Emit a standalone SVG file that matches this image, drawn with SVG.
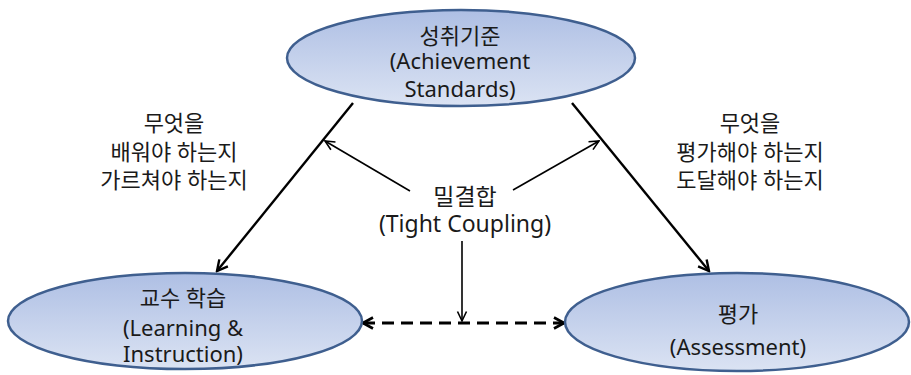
<svg xmlns="http://www.w3.org/2000/svg" width="911" height="375" viewBox="0 0 911 375">
  <defs>
    <linearGradient id="fillGrad" x1="0" y1="0" x2="0" y2="1">
      <stop offset="0" stop-color="#aebfe4"/>
      <stop offset="1" stop-color="#dbe3f3"/>
    </linearGradient>
    <marker id="arrowBig" viewBox="0 0 14 14" refX="12" refY="7" markerWidth="14" markerHeight="14" markerUnits="userSpaceOnUse" orient="auto">
      <path d="M1.5,1.5 L12,7 L1.5,12.5" fill="none" stroke="#000" stroke-width="2.4" stroke-linejoin="miter"/>
    </marker>
    <marker id="arrowSmall" viewBox="0 0 12 12" refX="10.5" refY="6" markerWidth="12" markerHeight="12" markerUnits="userSpaceOnUse" orient="auto">
      <path d="M1,1.5 L10.5,6 L1,10.5" fill="none" stroke="#000" stroke-width="1.6"/>
    </marker>
    <marker id="arrowDash" viewBox="0 0 14 14" refX="12" refY="7" markerWidth="14" markerHeight="14" markerUnits="userSpaceOnUse" orient="auto-start-reverse">
      <path d="M2,1.5 L12,7 L2,12.5" fill="none" stroke="#000" stroke-width="2.6"/>
    </marker>
  </defs>
  <style>
    .node ellipse { fill: url(#fillGrad); stroke: #3f5f8f; stroke-width: 2.5; }
    text { font-family: "Noto Sans", "Noto Sans CJK KR", sans-serif; font-size: 22px; fill: #1a1a1a; text-anchor: middle; }
    .mid { font-size: 23px; }
    .conn { fill: none; stroke: #000; }
    .big { stroke-width: 2.4; marker-end: url(#arrowBig); }
    .small { stroke-width: 1.6; marker-end: url(#arrowSmall); }
    .dash { stroke-width: 3; stroke-dasharray: 12 7; marker-start: url(#arrowDash); marker-end: url(#arrowDash); }
  </style>

  <g id="connectors">
    <line class="conn big" x1="353" y1="103" x2="217" y2="271"/>
    <line class="conn big" x1="572" y1="103" x2="709" y2="271"/>
    <line class="conn small" x1="410" y1="191" x2="325" y2="141"/>
    <line class="conn small" x1="513" y1="190" x2="599" y2="141"/>
    <line class="conn small" x1="462" y1="241" x2="462" y2="321"/>
    <line class="conn dash" x1="363" y1="323" x2="564" y2="323"/>
  </g>

  <g id="node-standards" class="node">
    <ellipse cx="461" cy="58" rx="174" ry="48"/>
    <text x="460" y="44">성취기준</text>
    <text x="460" y="69">(Achievement</text>
    <text x="460" y="97">Standards)</text>
  </g>

  <g id="node-learning" class="node">
    <ellipse cx="185" cy="321" rx="177" ry="48"/>
    <text x="183" y="306">교수 학습</text>
    <text x="183" y="336">(Learning &amp;</text>
    <text x="183" y="362">Instruction)</text>
  </g>

  <g id="node-assessment" class="node">
    <ellipse cx="737" cy="322" rx="172" ry="49"/>
    <text x="738" y="322">평가</text>
    <text x="738" y="355">(Assessment)</text>
  </g>

  <g id="label-left">
    <text x="174" y="131">무엇을</text>
    <text x="174" y="160">배워야 하는지</text>
    <text x="174" y="188">가르쳐야 하는지</text>
  </g>

  <g id="label-right">
    <text x="750" y="131">무엇을</text>
    <text x="750" y="160">평가해야 하는지</text>
    <text x="750" y="188">도달해야 하는지</text>
  </g>

  <g id="label-center">
    <text class="mid" x="465" y="205">밀결합</text>
    <text class="mid" x="465" y="232">(Tight Coupling)</text>
  </g>
</svg>
